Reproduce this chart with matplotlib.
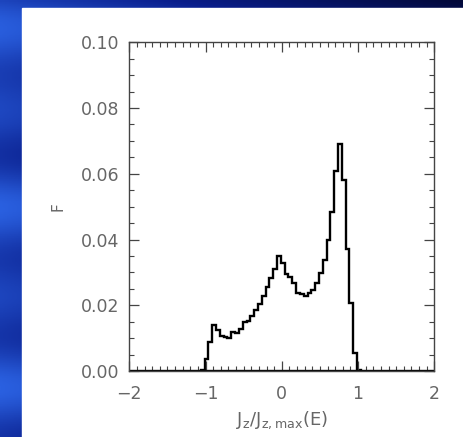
import numpy as np
import matplotlib.pyplot as plt
from matplotlib.patches import Rectangle
from matplotlib.colors import LinearSegmentedColormap

# histogram bins (width 0.05)
edge_start = -1.0625
bin_width = 0.05
F = [0.0003, 0.0037, 0.0089, 0.0139, 0.0125, 0.0107, 0.0104, 0.0101, 0.0118, 0.0117,
     0.0127, 0.0150, 0.0152, 0.0168, 0.0186, 0.0203, 0.0229, 0.0255, 0.0282, 0.0309,
     0.0350, 0.0328, 0.0295, 0.0285, 0.0267, 0.0238, 0.0233, 0.0229, 0.0236, 0.0246,
     0.0267, 0.0299, 0.0338, 0.0399, 0.0485, 0.0609, 0.0691, 0.0580, 0.0371, 0.0206,
     0.0056, 0.0003]
edges = edge_start + bin_width * np.arange(len(F) + 1)

xticks = [-2, -1, 0, 1, 2]
xticklabels = ['\u22122', '\u22121', '0', '1', '2']
yticks = [0.00, 0.02, 0.04, 0.06, 0.08, 0.10]
yticklabels = ['0.00', '0.02', '0.04', '0.06', '0.08', '0.10']

fig = plt.figure(figsize=(4.63, 4.37), dpi=100)

# blue background strip (left and top)
bg = fig.add_axes([0, 0, 1, 1], zorder=-10)
gx, gy = np.meshgrid(np.linspace(0, 1, 200), np.linspace(0, 1, 200))
grad = np.clip(0.75 - 0.75 * gx + 0.2 * np.sin(gy * 23) * np.cos(gy * 7), 0, 1)
cmap = LinearSegmentedColormap.from_list('sky', ['#020838', '#0a1e8c', '#2a60e0'])
bg.imshow(grad, cmap=cmap, aspect='auto', extent=[0, 1, 0, 1])
bg.add_patch(Rectangle((22 / 463, 0), 1, 1 - 8 / 437, color='white'))
bg.set_xlim(0, 1)
bg.set_ylim(0, 1)
bg.axis('off')

ax = fig.add_axes([129.3 / 463, 66 / 437, 305 / 463, 328.7 / 437])
ax.stairs(F, edges, baseline=0, color='black', linewidth=1.7)
ax.plot([-2, 2], [0, 0], color='black', linewidth=1.7)

ax.set_xlim(-2, 2)
ax.set_ylim(0, 0.10)
ax.set_xticks(xticks)
ax.set_xticklabels(xticklabels)
ax.set_yticks(yticks)
ax.set_yticklabels(yticklabels)
ax.set_xticks(np.arange(-2, 2.001, 0.1), minor=True)
ax.set_yticks(np.arange(0, 0.1001, 0.005), minor=True)

grey = '#666666'
ax.tick_params(which='both', direction='in', top=True, right=True, color='#444444',
               labelcolor=grey, labelsize=12.5)
ax.tick_params(which='major', length=7, width=0.9)
ax.tick_params(which='minor', length=3.5, width=0.8)
ax.tick_params(axis='x', which='major', pad=10)
ax.tick_params(axis='y', which='major', pad=7)
for s in ax.spines.values():
    s.set_color('#444444')
    s.set_linewidth(1.0)

ax.set_ylabel('F', color=grey, fontsize=11)
ax.yaxis.set_label_coords(-0.21, 0.5)
ax.set_xlabel(r'$\mathregular{J_z/J_{z,max}(E)}$', color=grey, fontsize=13, labelpad=5)

fig.savefig('out.png', dpi=100)
